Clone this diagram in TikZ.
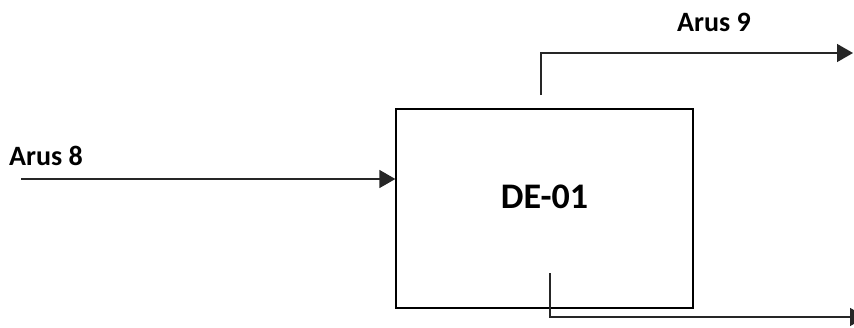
\documentclass[tikz,border=0pt]{standalone}
\usepackage{fontspec}
\setmainfont{Carlito}
\usetikzlibrary{arrows.meta}
\tikzset{
  flow/.style={line width=1.5pt, draw=black!85, -{Triangle[length=16pt,width=18pt]}},
  label/.style={font=\bfseries\fontsize{28}{33}\selectfont, inner sep=0pt, anchor=base west},
  unit/.style={draw=black, line width=1.3pt, minimum width=297pt, minimum height=199pt, inner sep=0pt}
}
\begin{document}
\begin{tikzpicture}[x=1pt, y=-1pt]
  \clip (0,0) rectangle (854,327);
  \useasboundingbox (0,0) rectangle (854,327);
  % dryer unit
  \node[unit] (de) at (544.5,208.5) {};
  \node[font=\bfseries\fontsize{36}{42}\selectfont, inner sep=0pt] (detxt) at (544.5,197) {DE-01};
  % stream 8 (feed)
  \coordinate (in8) at (21,179);
  \draw[flow] (in8) -- (de.west |- in8);
  \node[label] (l8) at (9,165) {Arus 8};
  % stream 9 (top outlet)
  \coordinate (s9a) at (541,95);
  \coordinate (s9b) at (541,53);
  \coordinate (s9c) at (853,53);
  \draw[flow] (s9a) -- (s9b) -- (s9c);
  \node[label] (l9) at (677,31) {Arus 9};
  % bottom outlet
  \coordinate (sba) at (550,273);
  \coordinate (sbb) at (550,317);
  \coordinate (sbc) at (866,317);
  \draw[flow] (sba) -- (sbb) -- (sbc);
\end{tikzpicture}
\end{document}
